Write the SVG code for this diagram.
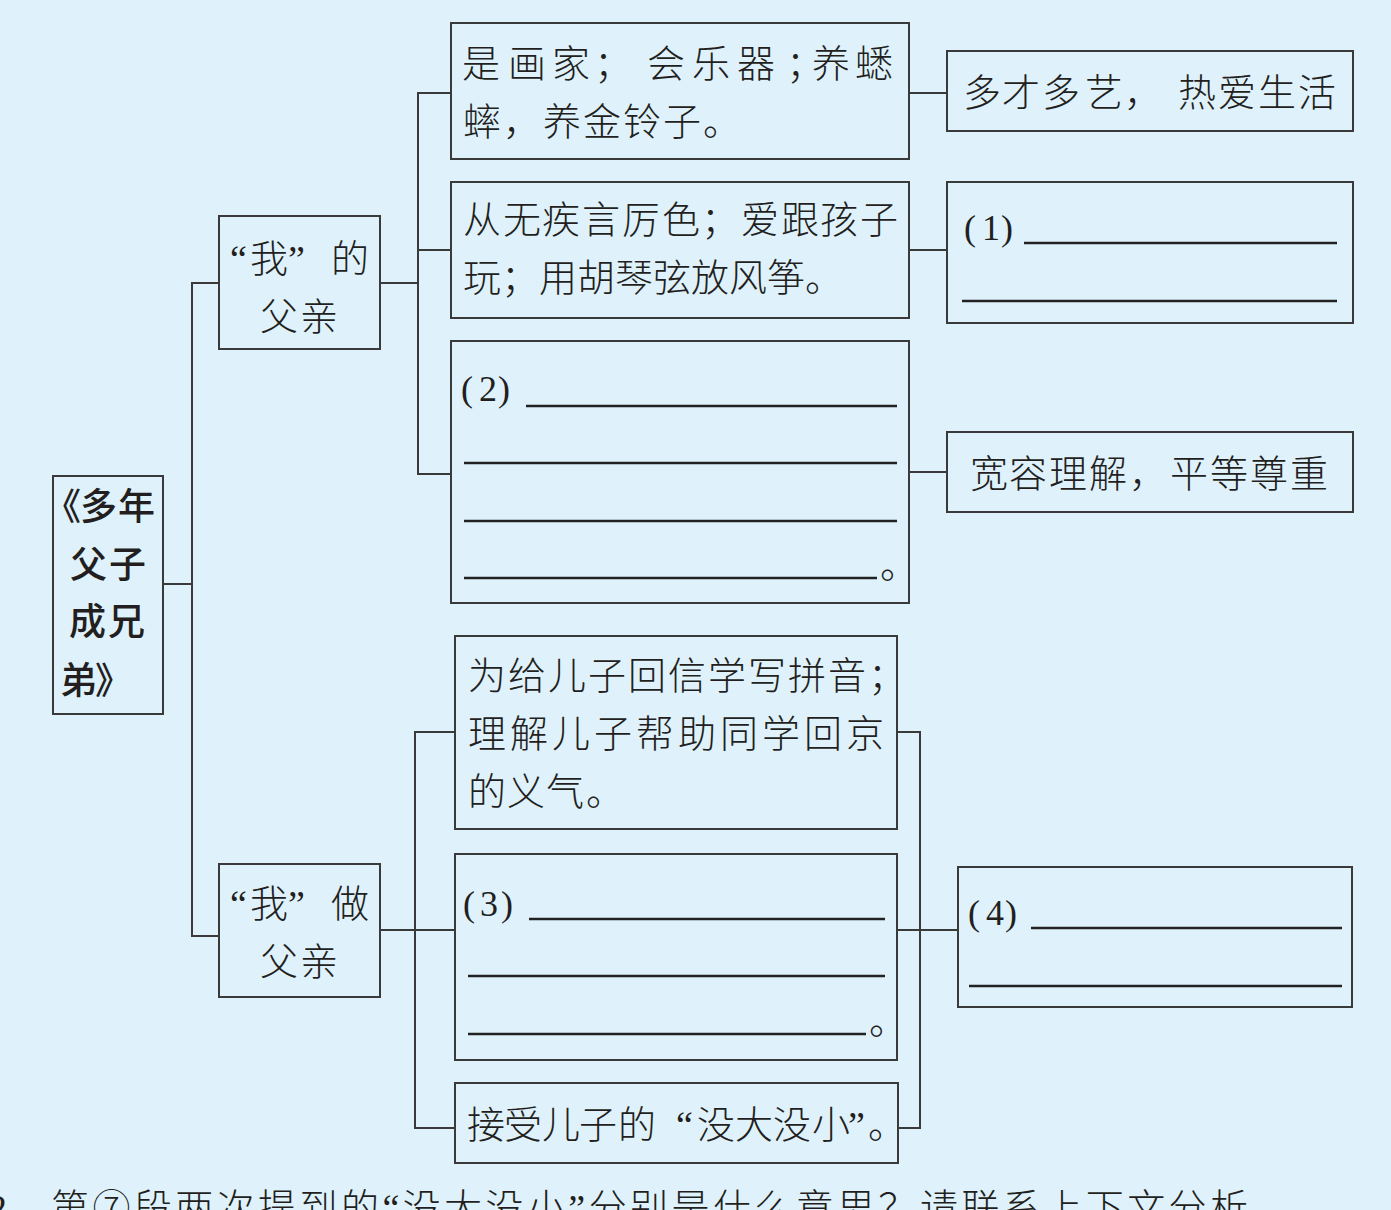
<svg xmlns="http://www.w3.org/2000/svg" width="1391" height="1210" viewBox="0 0 1391 1210">
<style>
.bg{fill:#DFF2FC}
.box{fill:none;stroke:#3a3a3a;stroke-width:2}
.ln{fill:none;stroke:#3a3a3a;stroke-width:2}
.ul{stroke:#222;stroke-width:2.5}
.t{font-family:"Liberation Serif","Noto Sans CJK SC",serif;font-size:38px;font-weight:300;fill:#231f20}
.n{font-family:"Liberation Serif","Noto Sans CJK SC",serif;font-size:36px;fill:#231f20}
.r{font-family:"Noto Sans CJK SC",sans-serif;font-size:37px;font-weight:500;fill:#231f20}
</style>
<rect class="bg" x="0" y="0" width="1391" height="1210"/>

<g id="connectors">
<path class="ln" d="M163,584 H192 M219,283 H192 V936 H219"/>
<path class="ln" d="M380,283 H418 M451,93 H418 V474 H451 M418,250 H451"/>
<path class="ln" d="M910,93 H947 M910,250 H947 M910,472 H947"/>
<path class="ln" d="M380,930 H455 M455,732 H415 V1128 H455"/>
<path class="ln" d="M897,732 H920 V1128 H898 M897,930 H958"/>
</g>

<g id="root">
<rect class="box" x="53" y="476" width="110" height="238"/>
<text class="r" y="520" x="44 80 118">《多年</text>
<text class="r" y="578" x="70 109">父子</text>
<text class="r" y="635" x="69 108">成兄</text>
<text class="r" y="694" x="60 95">弟》</text>
</g>

<g id="father-of-me">
<rect class="box" x="219" y="216" width="161" height="133"/>
<text class="t" y="272" x="230 250 288 331">“我”的</text>
<text class="t" y="330" x="260 300">父亲</text>
</g>

<g id="me-as-father">
<rect class="box" x="219" y="864" width="161" height="133"/>
<text class="t" y="917" x="230 250 288 331">“我”做</text>
<text class="t" y="975" x="260 300">父亲</text>
</g>

<g id="box-a">
<rect class="box" x="451" y="23" width="458" height="136"/>
<text class="t" y="77" x="462 508 552 594 647 692 737 786 812 855">是画家；会乐器；养蟋</text>
<text class="t" y="135" x="463 503 543 583 623 663 703">蟀，养金铃子。</text>
</g>

<g id="box-b">
<rect class="box" x="451" y="182" width="458" height="136"/>
<text class="t" y="233" x="463 503 542 582 622 662 701 741 781 820 860">从无疾言厉色；爱跟孩子</text>
<text class="t" y="291" x="463 501 539 577 615 653 691 729 767 805">玩；用胡琴弦放风筝。</text>
</g>

<g id="box-c">
<rect class="box" x="451" y="341" width="458" height="262"/>
<text class="n" y="401" x="461 479 498">(2)</text>
<line class="ul" x1="526" y1="406" x2="897" y2="406"/>
<line class="ul" x1="464" y1="463" x2="897" y2="463"/>
<line class="ul" x1="464" y1="521" x2="897" y2="521"/>
<line class="ul" x1="464" y1="578" x2="877" y2="578"/>
<text class="t" y="578" x="880">。</text>
</g>

<g id="right-1">
<rect class="box" x="947" y="51" width="406" height="80"/>
<text class="t" y="106" x="963 1002 1042 1085 1124 1178 1218 1258 1298">多才多艺，热爱生活</text>
</g>

<g id="right-2">
<rect class="box" x="947" y="182" width="406" height="141"/>
<text class="n" y="240" x="964 982 1001">(1)</text>
<line class="ul" x1="1024" y1="243" x2="1337" y2="243"/>
<line class="ul" x1="962" y1="301" x2="1337" y2="301"/>
</g>

<g id="right-3">
<rect class="box" x="947" y="432" width="406" height="80"/>
<text class="t" y="487" x="970 1009 1049 1089 1129 1170 1210 1250 1290">宽容理解，平等尊重</text>
</g>

<g id="box-d">
<rect class="box" x="455" y="636" width="442" height="193"/>
<text class="t" y="689" x="468 508 548 588 628 668 708 748 788 828 868">为给儿子回信学写拼音；</text>
<text class="t" y="747" x="468 510 552 594 636 678 720 762 804 846">理解儿子帮助同学回京</text>
<text class="t" y="805" x="468 507 546 586">的义气。</text>
</g>

<g id="box-e">
<rect class="box" x="455" y="854" width="442" height="206"/>
<text class="n" y="916" x="463 480 501">(3)</text>
<line class="ul" x1="529" y1="919" x2="885" y2="919"/>
<line class="ul" x1="468" y1="976" x2="885" y2="976"/>
<line class="ul" x1="468" y1="1034" x2="866" y2="1034"/>
<text class="t" y="1034" x="869">。</text>
</g>

<g id="box-f">
<rect class="box" x="455" y="1083" width="443" height="80"/>
<text class="t" y="1138" x="467 504 542 579 618 676 697 735 773 812 848 868">接受儿子的“没大没小”。</text>
</g>

<g id="right-4">
<rect class="box" x="958" y="867" width="394" height="140"/>
<text class="n" y="925" x="968 986 1005">(4)</text>
<line class="ul" x1="1031" y1="928" x2="1342" y2="928"/>
<line class="ul" x1="969" y1="986" x2="1342" y2="986"/>
</g>

<g id="question">
<text class="t" y="1221" x="-12">2．</text>
<text class="t" y="1221" x="51" textLength="1197" lengthAdjust="spacing">第⑦段两次提到的“没大没小”分别是什么意思？请联系上下文分析</text>
</g>
</svg>
